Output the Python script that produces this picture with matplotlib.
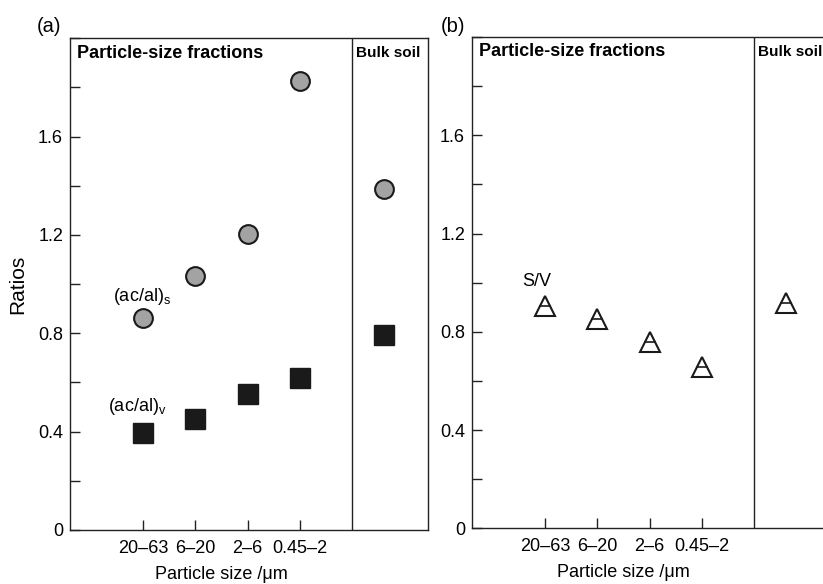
import numpy as np
import matplotlib
matplotlib.use("Agg")
import matplotlib.pyplot as plt
from matplotlib.ticker import MultipleLocator

plt.rcParams['font.family'] = ['Liberation Sans', 'DejaVu Sans']
plt.rcParams['mathtext.fontset'] = 'custom'
plt.rcParams['mathtext.rm'] = 'Liberation Sans'
plt.rcParams['mathtext.it'] = 'Liberation Sans'

# 数据
size_labels = ['20\u201363', '6\u201320', '2\u20136', '0.45\u20132']
ratio_s = [0.862, 1.035, 1.205, 1.827]     # (ac/al)s
ratio_v = [0.395, 0.453, 0.555, 0.620]     # (ac/al)v
ratio_sv = [0.905, 0.851, 0.760, 0.658]    # S/V
bulk_s = 1.388
bulk_v = 0.795
bulk_sv = 0.916

x = np.arange(1, len(size_labels) + 1)
x_bulk = 5.61
x_split = 5.0
x_min, x_max = -0.4, 6.45

fig = plt.figure(figsize=(8.23, 5.84), dpi=100)
ax1 = fig.add_axes([0.0851, 0.0925, 0.435, 0.842])
ax2 = fig.add_axes([0.5735, 0.0954, 0.435, 0.841])


def style_axes(ax):
    ax.set_xlim(x_min, x_max)
    ax.set_ylim(0, 2.0)
    ax.axvline(x_split, color='#222222', lw=1.0)
    for s in ax.spines.values():
        s.set_linewidth(1.0)
        s.set_color('#222222')
    ax.set_xticks(x)
    ax.set_xticklabels(size_labels, fontsize=13)
    ax.yaxis.set_minor_locator(MultipleLocator(0.2))
    ax.set_yticks([0, 0.4, 0.8, 1.2, 1.6])
    ax.set_yticklabels(['0', '0.4', '0.8', '1.2', '1.6'], fontsize=13)
    ax.tick_params(axis='both', which='both', direction='in', length=7,
                   width=1.0, top=False, right=False, color='#222222')
    ax.tick_params(axis='x', pad=7)
    ax.tick_params(axis='y', pad=5)
    ax.set_xlabel('Particle size /\u03bcm', fontsize=13, va='center')
    ax.xaxis.set_label_coords((2.5 - x_min) / (x_max - x_min), -0.09)
    ax.text(0.02, 0.97, 'Particle-size fractions', transform=ax.transAxes,
            fontsize=13, fontweight='bold', ha='left', va='center')
    ax.text(0.80, 0.97, 'Bulk soil', transform=ax.transAxes,
            fontsize=11, fontweight='bold', ha='left', va='center')


style_axes(ax1)
style_axes(ax2)

# --- (a) ---
ax1.plot(x, ratio_s, 'o', ms=13.5, mfc='#a3a3a3', mec='#1a1a1a', mew=1.5, ls='none')
ax1.plot([x_bulk], [bulk_s], 'o', ms=13.5, mfc='#a3a3a3', mec='#1a1a1a', mew=1.5)
ax1.plot(x, ratio_v, 's', ms=14, mfc='#1a1a1a', mec='#1a1a1a', ls='none')
ax1.plot([x_bulk], [bulk_v], 's', ms=14, mfc='#1a1a1a', mec='#1a1a1a')
ax1.text(0.43, 0.949, '(ac/al)$_\\mathrm{s}$', fontsize=13, ha='left', va='center')
ax1.text(0.33, 0.503, '(ac/al)$_\\mathrm{v}$', fontsize=13, ha='left', va='center')
ax1.set_ylabel('Ratios', fontsize=15, labelpad=8)

# --- (b) ---
ax2.plot(x, ratio_sv, '^', ms=15, mfc='none', mec='#1a1a1a', mew=1.5, ls='none')
ax2.plot(x, ratio_sv, '_', ms=8, mec='#1a1a1a', mew=1.2, ls='none')
ax2.plot([x_bulk], [bulk_sv], '^', ms=15, mfc='none', mec='#1a1a1a', mew=1.5)
ax2.plot([x_bulk], [bulk_sv], '_', ms=8, mec='#1a1a1a', mew=1.2)
ax2.text(0.567, 1.004, 'S/V', fontsize=13, ha='left', va='center')

fig.text(0.045, 0.954, '(a)', fontsize=14.5, ha='left', va='center')
fig.text(0.535, 0.954, '(b)', fontsize=14.5, ha='left', va='center')

fig.savefig('out.png', dpi=100)
